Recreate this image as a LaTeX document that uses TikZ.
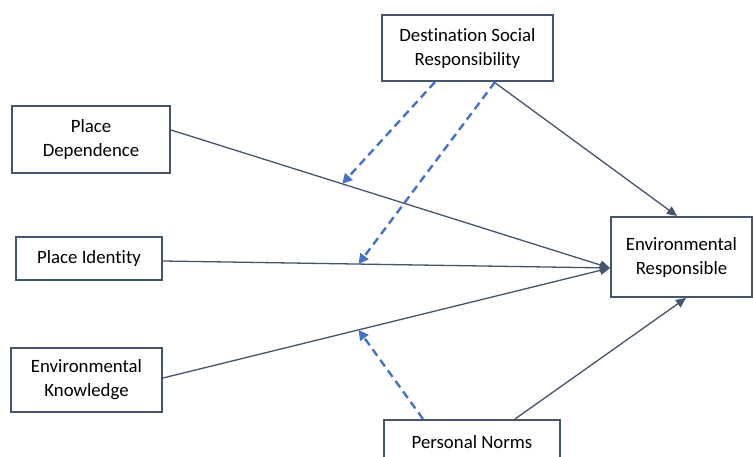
\documentclass[tikz,border=0pt]{standalone}
\usepackage{fontspec}
\setmainfont[Ligatures=NoCommon]{Carlito}
\usetikzlibrary{arrows.meta}
\definecolor{edgegray}{HTML}{44546A}
\definecolor{modblue}{HTML}{4472C4}

\begin{document}
\begin{tikzpicture}[x=1pt, y=-1pt,
    font=\fontsize{18.8}{24}\selectfont,
    box/.style={draw=edgegray, line width=2pt, fill=white, align=center, inner sep=0pt},
    link/.style={draw=edgegray, line width=1.3pt, -{Triangle[length=10pt,width=9pt]}},
    modr/.style={draw=modblue, line width=2.4pt, dash pattern=on 8pt off 5pt,
                 -{Triangle[length=10pt,width=10pt]}}]
\useasboundingbox (0,0) rectangle (753,457);

% constructs
\node[box, minimum width=171pt, minimum height=66pt] (dsr) at (467.5,48)
    {Destination Social\\Responsibility};
\node[box, minimum width=158pt, minimum height=67pt] (pd) at (91,139.5)
    {Place\\Dependence};
\node[box, minimum width=146pt, minimum height=43pt] (pi) at (89,258.5)
    {Place Identity};
\node[box, minimum width=151pt, minimum height=64pt] (ek) at (86.5,380)
    {Environmental\\Knowledge};
\node[box, minimum width=141pt, minimum height=80pt] (er) at (681.5,257)
    {Environmental\\Responsible};
\node[box, minimum width=176pt, minimum height=44pt] (pn) at (472,442)
    {Personal Norms};

% direct paths
\path[link] ([yshift=9.5pt]pd.east) -- coordinate[pos=0.39] (m1) ([yshift=-11pt]er.west);
\path[link] ([yshift=-2.5pt]pi.east) -- coordinate[pos=0.4375] (m2) ([yshift=-11pt]er.west);
\path[link] ([yshift=2pt]ek.east) -- coordinate[pos=0.4375] (m3) ([yshift=-11pt]er.west);
\path[link] ([xshift=26.5pt]dsr.south) -- ([xshift=-4.5pt]er.north);
\path[link] ([xshift=43pt]pn.north) -- ([xshift=4.5pt]er.south);

% moderating paths
\path[modr] ([xshift=-32.5pt]dsr.south) -- (m1);
\path[modr] ([xshift=27.5pt]dsr.south) -- (m2);
\path[modr] ([xshift=-49pt]pn.north) -- (m3);
\end{tikzpicture}
\end{document}
